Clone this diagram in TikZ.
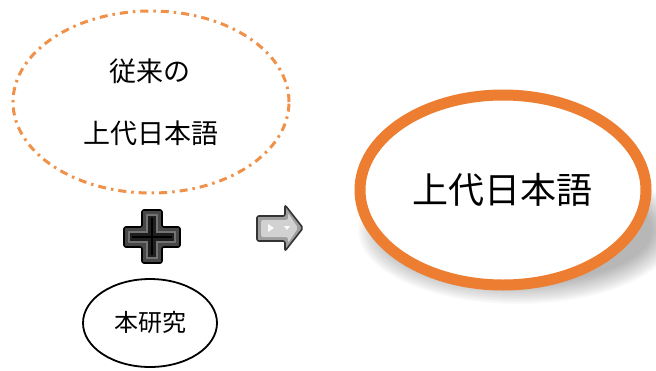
\documentclass[tikz,border=0pt]{standalone}
\usepackage{fontspec}
\setmainfont{Liberation Serif}
\newfontfamily\jp{Noto Sans CJK JP}[Scale=1]
\usetikzlibrary{shapes.geometric}
\definecolor{orangeA}{HTML}{ED7D31}
\definecolor{orangeB}{HTML}{F0914A}
\tikzset{
  jptext/.style={font=\jp, text=black, inner sep=0pt},
  dashell/.style={ellipse, draw=orangeB, line width=3pt, dash pattern=on 8pt off 5pt on 2.5pt off 5pt, inner sep=0pt},
  bigell/.style={ellipse, draw=orangeA, line width=11pt, fill=white, inner sep=0pt},
  smallell/.style={ellipse, draw=black, line width=1.8pt, inner sep=0pt},
}
\begin{document}
\begin{tikzpicture}[x={(1pt,0)}, y={(0,-1pt)}]
\useasboundingbox (0,0) rectangle (656,370);
% shadow under big ellipse
\foreach \k in {0,...,13}{
  \fill[black, opacity=0.025] (518,230) ellipse ({160-\k*2} and {74-\k*1.6});
}
% big ellipse
\node[bigell, minimum width=286pt, minimum height=190pt] (big) at (503,190) {};
\node[jptext, font=\jp\fontsize{36}{36}\selectfont] (bigtxt) at (502,190) {上代日本語};
% dashed ellipse
\node[dashell, minimum width=276pt, minimum height=182pt] (old) at (151,102) {};
\node[jptext, font=\jp\fontsize{27}{27}\selectfont] (oldtxt1) at (150,71) {従来の};
\node[jptext, font=\jp\fontsize{27}{27}\selectfont] (oldtxt2) at (151,133) {上代日本語};
% small ellipse
\node[smallell, minimum width=134pt, minimum height=88pt] (this) at (150,323) {};
\node[jptext, font=\jp\fontsize{24}{24}\selectfont] (thistxt) at (150,322) {本研究};
% plus sign
\coordinate (plusc) at (152,237);
\begin{scope}[shift={(plusc)}]
  \filldraw[draw=black, line width=1.6pt, fill=black!72, rounded corners=2pt]
    (-10,-27) -- (10,-27) -- (10,-10) -- (28,-10) -- (28,10) -- (10,10) -- (10,26) -- (-10,26) -- (-10,10) -- (-28,10) -- (-28,-10) -- (-10,-10) -- cycle;
  \filldraw[draw=black!55, line width=1.2pt, fill=black!88]
    (-5,-22) -- (5,-22) -- (5,-5) -- (23,-5) -- (23,5) -- (5,5) -- (5,21) -- (-5,21) -- (-5,5) -- (-23,5) -- (-23,-5) -- (-5,-5) -- cycle;
  \draw[black, line width=2pt] (-20,0) -- (20,0) (0,-19) -- (0,18);
\end{scope}
% arrow
\coordinate (arrc) at (280,228);
\begin{scope}[shift={(arrc)}]
  \filldraw[draw=black!80, line width=1.6pt, fill=black!38, rounded corners=2pt]
    (-23,-12) -- (5,-12) -- (5,-23) -- (23,0) -- (5,23) -- (5,13) -- (-23,13) -- cycle;
  \fill[black!18, rounded corners=2pt]
    (-19,-8) -- (8,-8) -- (8,-15) -- (18,0) -- (8,15) -- (8,9) -- (-19,9) -- cycle;
  \fill[white, opacity=0.9] (-12,-4) -- (-6,0) -- (-12,4) -- cycle;
  \fill[white, opacity=0.9] (4,-2) -- (10,-2) -- (7,2) -- cycle;
\end{scope}
\end{tikzpicture}
\end{document}
